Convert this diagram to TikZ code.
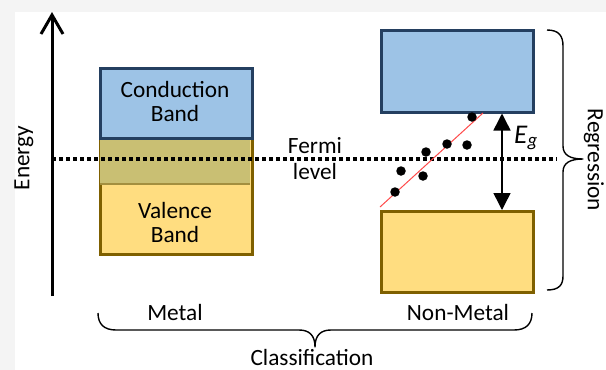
\documentclass[tikz,border=0pt]{standalone}
\usepackage{fontspec}
\setmainfont{Carlito}
\usetikzlibrary{arrows.meta}
\definecolor{bandblue}{HTML}{9DC3E6}
\definecolor{blueedge}{HTML}{243F60}
\definecolor{bandyellow}{HTML}{FFDD80}
\definecolor{brownedge}{HTML}{7F6000}
\definecolor{overlapc}{HTML}{C9BF73}
\definecolor{overlapline}{HTML}{A38F3F}
\definecolor{outerbg}{HTML}{F4F4F4}
\definecolor{regred}{HTML}{FF4A4A}
\tikzset{
  cband/.style={draw=blueedge, fill=bandblue, line width=2.5pt, anchor=north west, minimum width=152pt, inner sep=0pt},
  vband/.style={draw=brownedge, fill=bandyellow, line width=2.5pt, anchor=north west, minimum width=152pt, inner sep=0pt},
  lbl/.style={font=\fontsize{23.3}{24}\selectfont, align=center, inner sep=0pt},
  dot/.style={circle, fill=black, minimum size=9.5pt, inner sep=0pt},
  brace/.style={line width=1.4pt, line join=round},
}
\begin{document}
\begin{tikzpicture}[x=1pt, y=-1pt]
\useasboundingbox (0,0) rectangle (606,370);
\fill[outerbg] (0,0) rectangle (606,370);
\fill[white] (15,12) rectangle (606,370);

% metal bands
\node[vband, minimum height=116pt] (mvb) at (99,137) {};
\fill[overlapc] (100.25,138.25) rectangle (249.75,184);
\draw[overlapline, line width=2pt] (100.25,184) -- (249.75,184);
\node[cband, minimum height=70pt] (mcb) at (99,67) {};
\node[lbl] (mct) at (175,101) {Conduction\\Band};
\node[lbl] (mvt) at (175,222) {Valence\\Band};

% non-metal bands
\node[cband, minimum height=82pt] (ncb) at (380,29) {};
\node[vband, minimum height=81pt] (nvb) at (380,210) {};

% energy axis
\coordinate (axb) at (52,296);
\coordinate (axt) at (52,12);
\draw[line width=3pt, -{Straight Barb[length=19pt, width=22pt]}] (axb) -- (axt);
\node[lbl, rotate=90] (energy) at (24,158) {Energy};

% fermi level
\coordinate (fl) at (52,159);
\coordinate (fr) at (557,159);
\draw[line width=3.5pt, dash pattern=on 4pt off 3pt] (fl) -- (fr);
\node[lbl, font=\fontsize{23.3}{26}\selectfont] (fermi) at (315,159) {Fermi\\level};

% regression line and dots
\coordinate (ra) at (380,207);
\coordinate (rb) at (483,113);
\draw[regred, line width=1pt] (ra) -- (rb);
\node[dot] (d1) at (472,117) {};
\node[dot] (d2) at (447,144) {};
\node[dot] (d3) at (467,145) {};
\node[dot] (d4) at (426,152) {};
\node[dot] (d5) at (401,171) {};
\node[dot] (d6) at (423,176) {};
\node[dot] (d7) at (395,192) {};

% band gap arrow
\coordinate (egx) at (502,0);
\draw[line width=1.5pt, {Triangle[length=17pt, width=17pt]}-{Triangle[length=17pt, width=17pt]}] (ncb.south -| egx) -- (nvb.north -| egx);
\node[lbl, font=\fontsize{27}{28}\selectfont] (eg) at (526,138) {\textit{E}\textsubscript{\textit{g}}};

% regression brace
\draw[brace] (547,30) .. controls (559,30) and (563,36) .. (563,46) -- (563,146) .. controls (563,155) and (570,159) .. (583,159) .. controls (570,159) and (563,163) .. (563,172) -- (563,276) .. controls (563,285) and (559,290) .. (547,290);
\node[lbl, rotate=-90] (reg) at (594,160) {Regression};

% classification brace
\draw[brace] (98,313) .. controls (98,324) and (104,330) .. (116,330) -- (299,330) .. controls (309,330) and (315,335) .. (315,347) .. controls (315,335) and (321,330) .. (331,330) -- (514,330) .. controls (526,330) and (532,324) .. (532,313);
\node[lbl] (metal) at (175,312) {Metal};
\node[lbl] (nonmetal) at (458,312) {Non-Metal};
\node[lbl, anchor=base] (cls) at (312,365) {Classification};
\end{tikzpicture}
\end{document}
